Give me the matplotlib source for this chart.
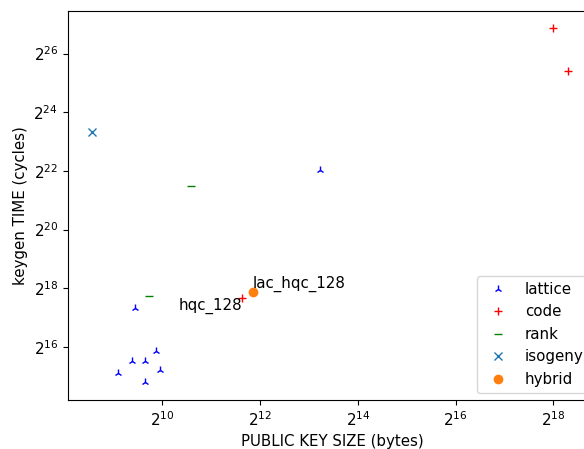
import matplotlib
matplotlib.use("Agg")
import matplotlib.pyplot as plt
from matplotlib.ticker import FixedLocator, LogFormatterSciNotation, NullLocator

plt.rcParams['font.size'] = 10.8

# public key size (bytes) / keygen time (cycles)
lattice_pk = [545, 671, 803, 936, 989, 803, 699, 9540]
lattice_cyc = [35100, 47000, 47000, 59500, 38400, 28300, 164700, 4250000]

code_pk = [262144, 322500, 3190]
code_cyc = [122000000, 44600000, 208000]

rank_pk = [1552, 849]
rank_cyc = [2940000, 219000]

isogeny_pk = [377]
isogeny_cyc = [10600000]

hybrid_pk = [3690]
hybrid_cyc = [242000]

notes = [("hqc_128", 3190, 208000), ("lac_hqc_128", 3690, 242000)]

fig = plt.figure(figsize=(5.84, 4.49), dpi=100)
ax = fig.add_axes([0.1159, 0.1085, 0.9063, 0.8677])

ax.plot(lattice_pk, lattice_cyc, '2', color='blue', linestyle='none', label='lattice')
ax.plot(code_pk, code_cyc, '+', color='red', linestyle='none', label='code')
ax.plot(rank_pk, rank_cyc, '_', color='green', linestyle='none', label='rank')
ax.plot(isogeny_pk, isogeny_cyc, 'x', color='C0', linestyle='none', label='isogeny')
ax.plot(hybrid_pk, hybrid_cyc, 'o', color='C1', linestyle='none', label='hybrid')

ax.text(notes[0][1], notes[0][2], notes[0][0], ha='right', va='top')
ax.text(notes[1][1], notes[1][2], notes[1][0], ha='left', va='bottom')

ax.set_xscale('log', base=2)
ax.set_yscale('log', base=2)
ax.set_xlim(2**8.07, 2**18.89)
ax.set_ylim(2**14.18, 2**27.46)
ax.xaxis.set_major_locator(FixedLocator([2**e for e in range(10, 19, 2)]))
ax.yaxis.set_major_locator(FixedLocator([2**e for e in range(16, 27, 2)]))
ax.xaxis.set_major_formatter(LogFormatterSciNotation(base=2))
ax.yaxis.set_major_formatter(LogFormatterSciNotation(base=2))
ax.xaxis.set_minor_locator(NullLocator())
ax.yaxis.set_minor_locator(NullLocator())

ax.set_xlabel('PUBLIC KEY SIZE (bytes)')
ax.set_ylabel('keygen TIME (cycles)')
ax.legend(loc='lower right')

fig.savefig('out.png', dpi=100)
